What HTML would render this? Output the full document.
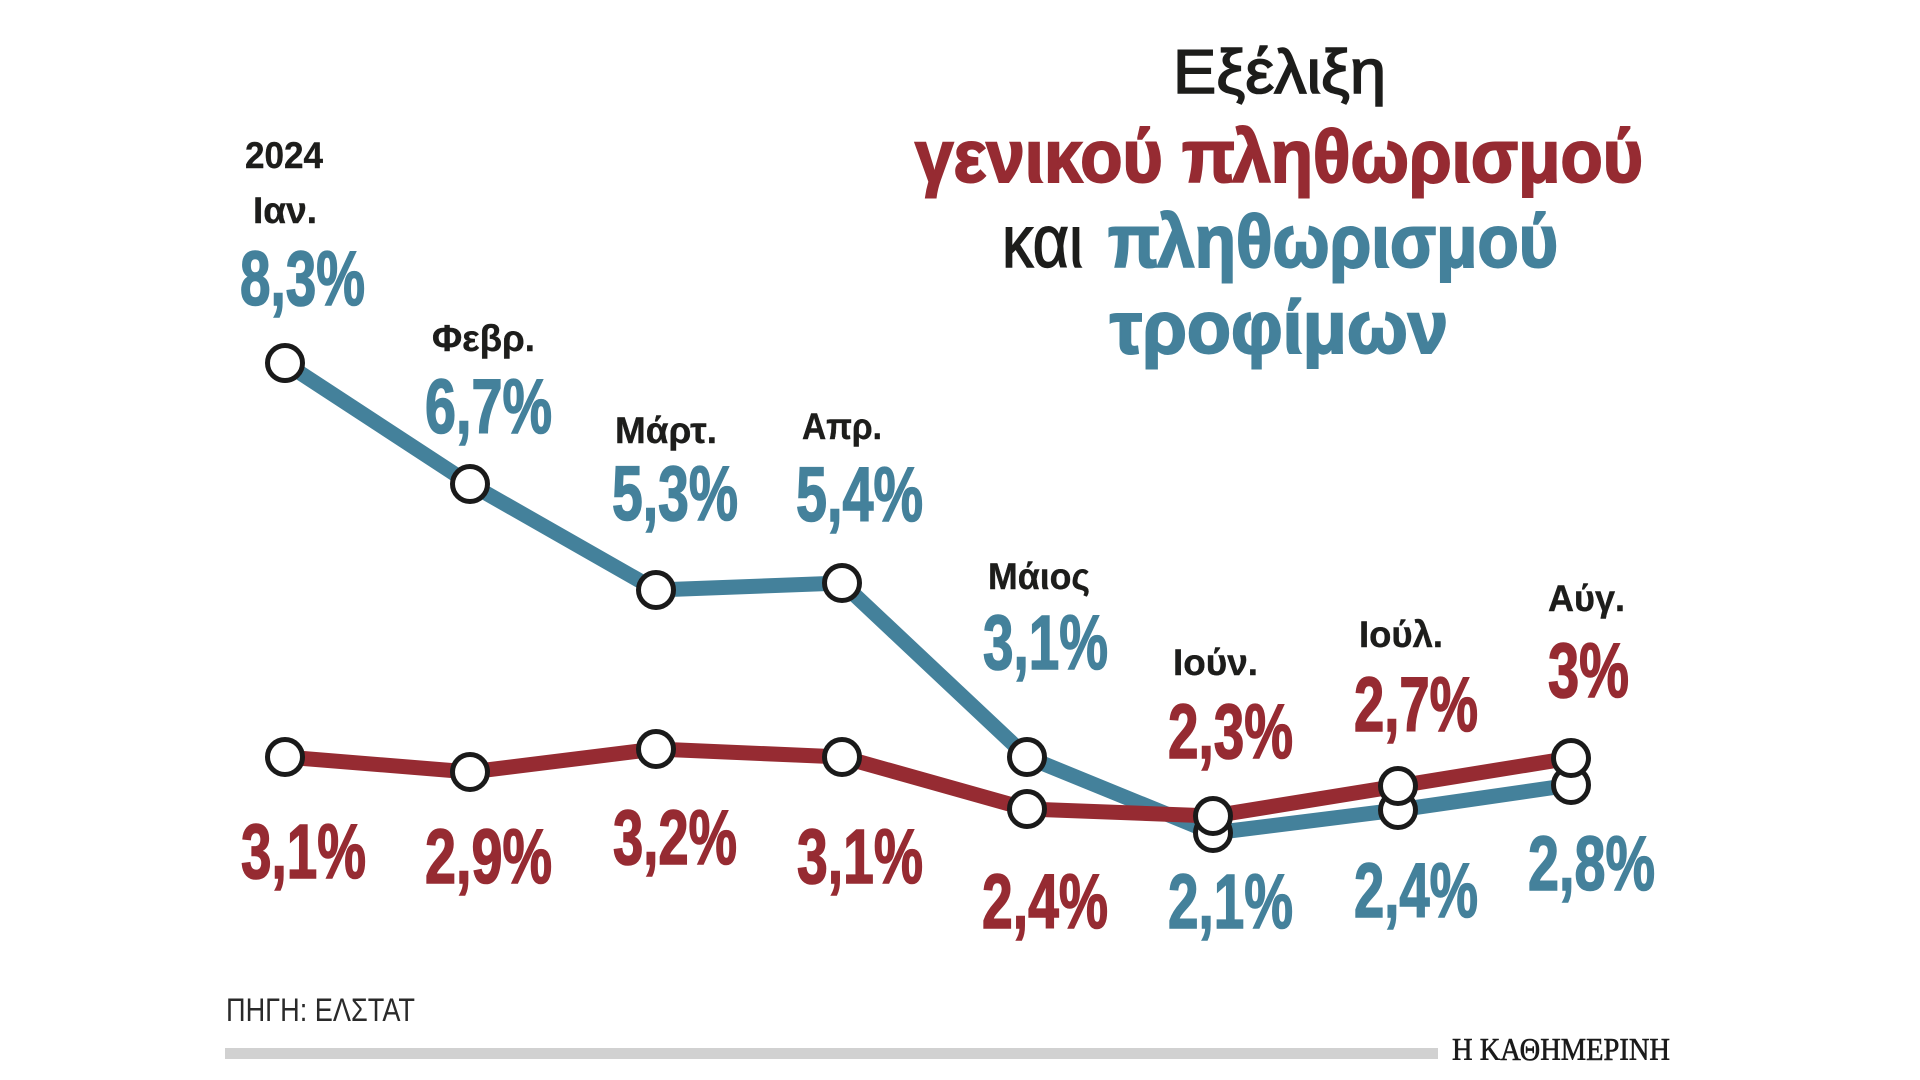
<!DOCTYPE html>
<html>
<head>
<meta charset="utf-8">
<style>
  html, body { margin: 0; padding: 0; background: #ffffff; }
  svg { display: block; }
  .num { font-family: "Liberation Sans", "DejaVu Sans", sans-serif; font-weight: bold; font-size: 77px; }
  .mon { font-family: "Liberation Sans", "DejaVu Sans", sans-serif; font-weight: bold; font-size: 37px; fill: #1d1d1b; stroke: #1d1d1b; stroke-width: 0.4px; }
  .t { fill: #44819b; stroke: #44819b; stroke-width: 1.6px; }
  .r { fill: #962b32; stroke: #962b32; stroke-width: 1.6px; }
</style>
</head>
<body>
<svg width="1920" height="1080" viewBox="0 0 1920 1080" xmlns="http://www.w3.org/2000/svg">
  <rect width="1920" height="1080" fill="#ffffff"/>

  <!-- Title -->
  <text x="1173" y="93" font-family="Liberation Sans, DejaVu Sans, sans-serif" font-size="62" fill="#1d1d1b" stroke="#1d1d1b" stroke-width="1.6" textLength="213" lengthAdjust="spacingAndGlyphs">Εξέλιξη</text>
  <text x="915" y="182" font-family="Liberation Sans, DejaVu Sans, sans-serif" font-weight="bold" font-size="74" fill="#962b32" stroke="#962b32" stroke-width="2" textLength="728" lengthAdjust="spacingAndGlyphs">γενικού πληθωρισμού</text>
  <text x="1002" y="267" font-family="Liberation Sans, DejaVu Sans, sans-serif" font-size="74" fill="#1d1d1b" stroke="#1d1d1b" stroke-width="1.4" textLength="81" lengthAdjust="spacingAndGlyphs">και</text>
  <text x="1108" y="267" font-family="Liberation Sans, DejaVu Sans, sans-serif" font-weight="bold" font-size="74" fill="#44819b" stroke="#44819b" stroke-width="2" textLength="450" lengthAdjust="spacingAndGlyphs">πληθωρισμού</text>
  <text x="1110" y="353" font-family="Liberation Sans, DejaVu Sans, sans-serif" font-weight="bold" font-size="74" fill="#44819b" stroke="#44819b" stroke-width="2" textLength="338" lengthAdjust="spacingAndGlyphs">τροφίμων</text>

  <!-- Year & months -->
  <text class="mon" x="245" y="168" font-size="39" textLength="78" lengthAdjust="spacingAndGlyphs">2024</text>
  <text class="mon" x="253" y="223" textLength="64" lengthAdjust="spacingAndGlyphs">Ιαν.</text>
  <text class="mon" x="432" y="351" textLength="103" lengthAdjust="spacingAndGlyphs">Φεβρ.</text>
  <text class="mon" x="615" y="443" textLength="102" lengthAdjust="spacingAndGlyphs">Μάρτ.</text>
  <text class="mon" x="802" y="439" textLength="80" lengthAdjust="spacingAndGlyphs">Απρ.</text>
  <text class="mon" x="988" y="589" textLength="102" lengthAdjust="spacingAndGlyphs">Μάιος</text>
  <text class="mon" x="1173" y="675" textLength="85" lengthAdjust="spacingAndGlyphs">Ιούν.</text>
  <text class="mon" x="1359" y="647" textLength="84" lengthAdjust="spacingAndGlyphs">Ιούλ.</text>
  <text class="mon" x="1548" y="611" textLength="77" lengthAdjust="spacingAndGlyphs">Αύγ.</text>

  <!-- Teal values -->
  <text class="num t" x="240" y="305" textLength="125" lengthAdjust="spacingAndGlyphs">8,3%</text>
  <text class="num t" x="425" y="433" textLength="127" lengthAdjust="spacingAndGlyphs">6,7%</text>
  <text class="num t" x="612" y="520" textLength="126" lengthAdjust="spacingAndGlyphs">5,3%</text>
  <text class="num t" x="796" y="521" textLength="127" lengthAdjust="spacingAndGlyphs">5,4%</text>
  <text class="num t" x="983" y="669" textLength="125" lengthAdjust="spacingAndGlyphs">3,1%</text>
  <text class="num t" x="1168" y="928" textLength="125" lengthAdjust="spacingAndGlyphs">2,1%</text>
  <text class="num t" x="1354" y="917" textLength="124" lengthAdjust="spacingAndGlyphs">2,4%</text>
  <text class="num t" x="1528" y="890" textLength="127" lengthAdjust="spacingAndGlyphs">2,8%</text>

  <!-- Red values -->
  <text class="num r" x="241" y="878" textLength="125" lengthAdjust="spacingAndGlyphs">3,1%</text>
  <text class="num r" x="425" y="883" textLength="127" lengthAdjust="spacingAndGlyphs">2,9%</text>
  <text class="num r" x="613" y="864" textLength="124" lengthAdjust="spacingAndGlyphs">3,2%</text>
  <text class="num r" x="797" y="883" textLength="126" lengthAdjust="spacingAndGlyphs">3,1%</text>
  <text class="num r" x="982" y="928" textLength="126" lengthAdjust="spacingAndGlyphs">2,4%</text>
  <text class="num r" x="1168" y="758" textLength="125" lengthAdjust="spacingAndGlyphs">2,3%</text>
  <text class="num r" x="1354" y="731" textLength="124" lengthAdjust="spacingAndGlyphs">2,7%</text>
  <text class="num r" x="1548" y="697" textLength="81" lengthAdjust="spacingAndGlyphs">3%</text>

  <!-- Teal series -->
  <polyline points="285,363 470,484 656,590 842,583 1027,757 1213,833 1398,810 1571,785"
            fill="none" stroke="#44819b" stroke-width="15" stroke-linejoin="round"/>
  <g fill="#ffffff" stroke="#1a1a1a" stroke-width="5">
    <circle cx="285" cy="363" r="17.5"/>
    <circle cx="470" cy="484" r="17.5"/>
    <circle cx="656" cy="590" r="17.5"/>
    <circle cx="842" cy="583" r="17.5"/>
    <circle cx="1027" cy="757" r="17.5"/>
    <circle cx="1213" cy="833" r="17.5"/>
    <circle cx="1398" cy="810" r="17.5"/>
    <circle cx="1571" cy="785" r="17.5"/>
  </g>

  <!-- Red series -->
  <polyline points="285,757 470,772 656,749 842,757 1027,809 1213,816 1398,786 1571,758"
            fill="none" stroke="#962b32" stroke-width="15" stroke-linejoin="round"/>
  <g fill="#ffffff" stroke="#1a1a1a" stroke-width="5">
    <circle cx="285" cy="757" r="17.5"/>
    <circle cx="470" cy="772" r="17.5"/>
    <circle cx="656" cy="749" r="17.5"/>
    <circle cx="842" cy="757" r="17.5"/>
    <circle cx="1027" cy="809" r="17.5"/>
    <circle cx="1213" cy="816" r="17.5"/>
    <circle cx="1398" cy="786" r="17.5"/>
    <circle cx="1571" cy="758" r="17.5"/>
  </g>

  <!-- Footer -->
  <text x="226" y="1021" font-family="Liberation Sans, DejaVu Sans, sans-serif" font-size="32" fill="#2a2a2a" textLength="189" lengthAdjust="spacingAndGlyphs">ΠΗΓΗ: ΕΛΣΤΑΤ</text>
  <rect x="225" y="1048" width="1213" height="11" fill="#d1d1d1"/>
  <text x="1452" y="1060" font-family="Liberation Serif, DejaVu Serif, serif" font-size="32" fill="#1a1a1a" stroke="#1a1a1a" stroke-width="0.6" textLength="218" lengthAdjust="spacingAndGlyphs">Η ΚΑΘΗΜΕΡΙΝΗ</text>
</svg>
</body>
</html>
